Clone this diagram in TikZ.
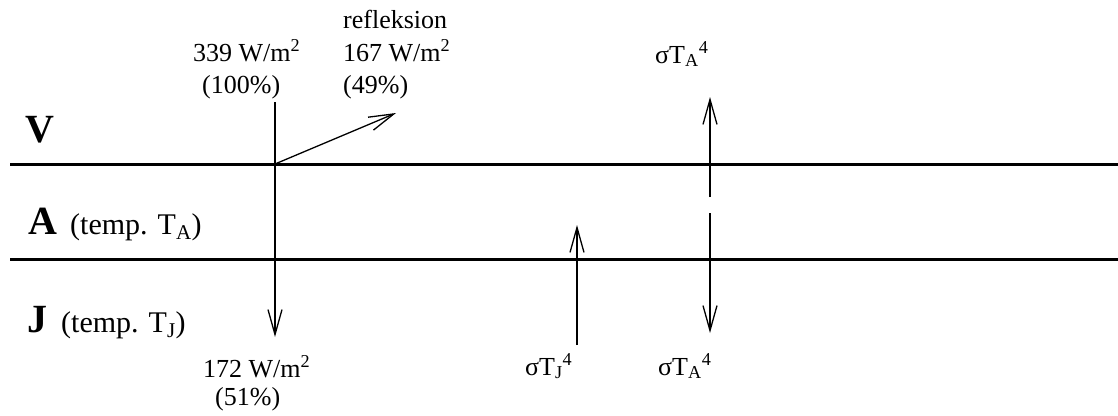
\documentclass[tikz,border=0pt]{standalone}
\usepackage{fontspec}
\setmainfont{Liberation Serif}
\usetikzlibrary{arrows.meta}

\begin{document}
\begin{tikzpicture}[x=1pt,y=-1pt,
  lbl/.style={font=\fontsize{26}{30}\selectfont,inner sep=0pt,anchor=base west},
  lyr/.style={font=\fontsize{40}{44}\selectfont\bfseries,inner sep=0pt,anchor=base west},
  tmp/.style={font=\fontsize{30}{34}\selectfont,inner sep=0pt,anchor=base west},
  ray/.style={line width=1.3pt,-{Straight Barb[length=25pt,width=14pt]}},
  grens/.style={line width=3pt}]
\useasboundingbox (0,0) rectangle (1118,415);
\coordinate (va0) at (10,164);
\coordinate (va1) at (1118,164);
\coordinate (aj0) at (10,259);
\coordinate (aj1) at (1118,259);
\draw[grens] (va0) -- (va1);
\draw[grens] (aj0) -- (aj1);
\node[lyr] (vlag) at (25,142) {V};
\node[lyr] (alag) at (28,234) {A};
\node[tmp] (atemp) at (70,234) {(temp. T\textsubscript{A})};
\node[lyr] (jlag) at (27,332) {J};
\node[tmp] (jtemp) at (61,332) {(temp. T\textsubscript{J})};
\node[lbl] (refl) at (343,28) {refleksion};
\node[lbl] (inW) at (193,61) {339 W/m\textsuperscript{2}};
\node[lbl] (inpct) at (202,93) {(100\%)};
\node[lbl] (reflW) at (343,61) {167 W/m\textsuperscript{2}};
\node[lbl] (reflpct) at (343,93) {(49\%)};
\node[lbl] (sigAtop) at (655,63) {σT\textsubscript{A}\textsuperscript{4}};
\node[lbl] (outW) at (203,377) {172 W/m\textsuperscript{2}};
\node[lbl] (outpct) at (215,405) {(51\%)};
\node[lbl] (sigJ) at (525,375) {σT\textsubscript{J}\textsuperscript{4}};
\node[lbl] (sigAbot) at (658,375) {σT\textsubscript{A}\textsuperscript{4}};
\coordinate (sun) at (275,102);
\coordinate (hit) at (275,164);
\coordinate (ground) at (275,337);
\coordinate (reflend) at (396,113);
\coordinate (jfoot) at (577,345);
\coordinate (jtop) at (577,225);
\coordinate (aup0) at (710,197);
\coordinate (aup1) at (710,97);
\coordinate (adn0) at (710,213);
\coordinate (adn1) at (710,333);
\draw[ray] (sun) -- (ground);
\draw[ray] (hit) -- (reflend);
\draw[ray] (jfoot) -- (jtop);
\draw[ray] (aup0) -- (aup1);
\draw[ray] (adn0) -- (adn1);
\end{tikzpicture}
\end{document}
